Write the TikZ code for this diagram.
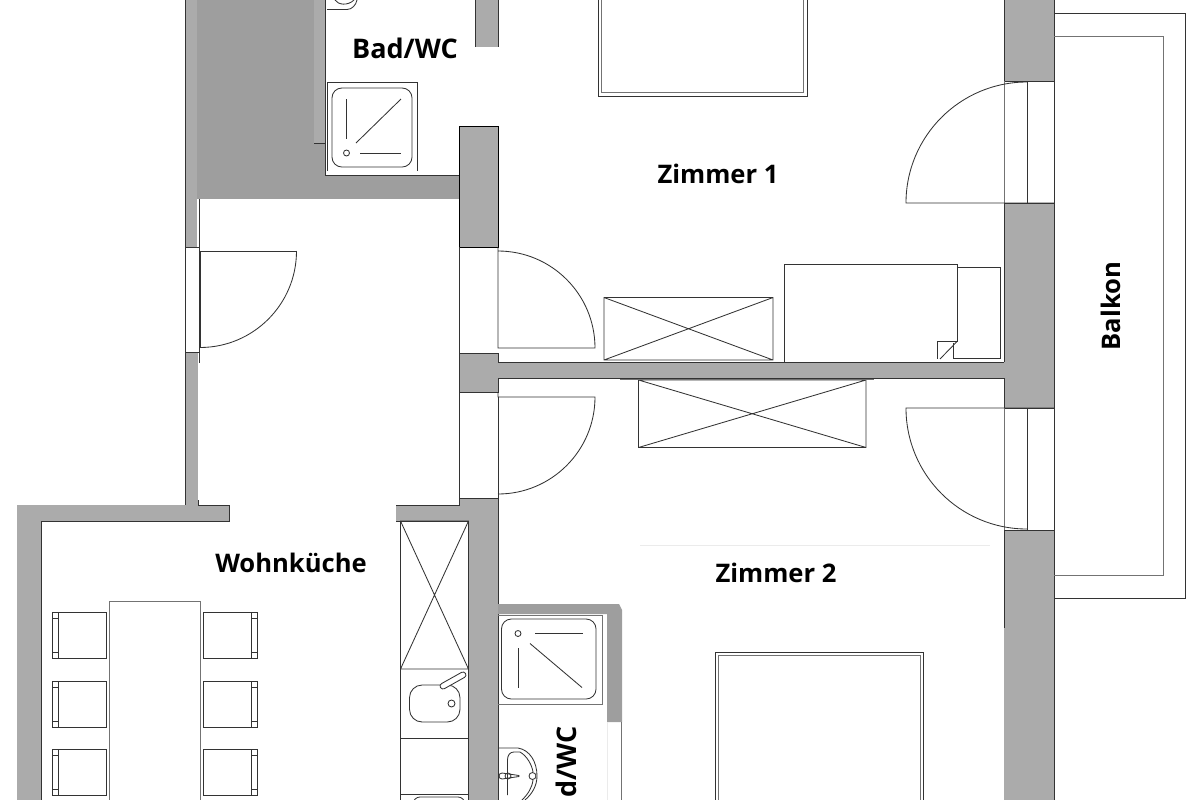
\documentclass[tikz,border=0pt]{standalone}
\usepackage{fontspec}
\setmainfont{Open Sans}
\usetikzlibrary{calc}
\definecolor{wallgray}{HTML}{ABABAB}
\definecolor{coregray}{HTML}{9E9E9E}
\tikzset{
    wall/.style={
        fill=wallgray,
        draw=black,
        line width=0.7pt
    },
    core/.style={
        fill=coregray,
        draw=none
    },
    plan/.style={
        draw=black!80,
        line width=0.6pt
    },
    faint/.style={
        draw=black!55,
        line width=0.6pt
    },
    ghost/.style={
        draw=black!8,
        line width=0.6pt
    },
    roomlabel/.style={
        font=\fontsize{18.2}{20}\selectfont\bfseries,
        text=black,
        inner sep=0pt
    },
    bathlabel/.style={
        font=\fontsize{19.2}{20}\selectfont\bfseries,
        text=black,
        inner sep=0pt
    }
}
\begin{document}
\begin{tikzpicture}[x=0.25mm,y=-0.25mm]
\useasboundingbox (0,0) rectangle (1200,800);
\clip (0,0) rectangle (1200,800);

% walls
\path[core] (197,0) rectangle (325,199);
\path[core] (197,175) rectangle (459,199);
\path[fill=wallgray] (314,0) rectangle (325,143);
\draw[plan] (314,143) -- (325,143);
\draw[plan] (325,0) -- (325,175) -- (459,175);
\path[fill=wallgray] (185,0) rectangle (197,247);
\draw[plan] (185,0) -- (185,247) -- (199,247) -- (199,199);
\path[fill=wallgray] (475,0) rectangle (498,47);
\draw[plan] (475,0) -- (475,47);
\draw[plan] (498,0) -- (498,47);
\draw[wall] (459,247) -- (459,126) -- (498,126) -- (498,247) -- cycle;
\path[fill=wallgray] (185,352) rectangle (198,505);
\draw[plan] (185,352) -- (199,352);
\draw[plan] (185,352) -- (185,505) -- (17,505) -- (17,800);
\path[fill=wallgray] (17,505) rectangle (229,521);
\path[fill=wallgray] (17,505) rectangle (41,800);
\draw[plan] (198,500) -- (198,505) -- (229,505) -- (229,521) -- (41,521) -- (41,800);
\path[fill=wallgray] (459,353) rectangle (498,392);
\path[fill=wallgray] (498,362) rectangle (1005,378);
\draw[plan] (498,362) -- (498,353) -- (459,353) -- (459,392) -- (498,392) -- (498,378) -- (1004,378);
\draw[plan] (498,362) -- (1004,362);
\path[fill=wallgray] (459,498) -- (498,498) -- (498,800) -- (468,800) -- (468,521) -- (396,521) -- (396,505) -- (459,505) -- cycle;
\draw[plan] (498,800) -- (498,498) -- (459,498) -- (459,505) -- (396,505);
\draw[plan] (396,521) -- (468,521) -- (468,800);
\foreach \ya/\yb in {0/81, 203/408, 530/800}
    \path[fill=wallgray] (1004,\ya) rectangle (1054,\yb);
\draw[plan] (1004,0) -- (1004,81) -- (1054,81);
\draw[plan] (1004,203) -- (1054,203);
\draw[plan] (1004,203) -- (1004,362);
\draw[plan] (1004,378) -- (1004,408) -- (1054,408);
\draw[plan] (1004,530) -- (1054,530);
\draw[plan] (1004,530) -- (1004,628);
\draw[plan] (1054,0) -- (1054,800);
\path[fill=coregray] (498,604) -- (619,604) -- (622,610) -- (622,722) -- (607,722) -- (607,614) -- (498,614) -- cycle;
\draw[faint] (621,722) -- (621,800);
\draw[ghost] (607,722) -- (607,800);

% openings and doors
\draw[plan] (185,247) -- (185,352);
\draw[plan] (199.5,247) -- (199.5,363);
\draw[plan] (459,247) -- (459,353);
\draw[plan] (459,392) -- (459,498);
\draw[plan] (498,247) -- (498,348) -- (595,348) arc (0:-90:97);
\draw[plan] (498,392) -- (498,397) -- (595,397) arc (0:90:97);
\draw[plan] (498,397) -- (498,498);
\draw[plan] (296.5,251) -- (200,251) -- (200,348);
\draw[plan] (296.5,251) arc (0:90:96.5);
\draw[faint] (1004,81) -- (1004,203);
\draw[plan] (1027,81) -- (1027,203);
\draw[plan] (1054,203) -- (906,203) arc (180:270:121);
\draw[faint] (1004,408) -- (1004,530);
\draw[plan] (1027,408) -- (1027,530);
\draw[plan] (1054,408) -- (906,408) arc (180:90:121);

% balcony
\draw[plan] (1054,13) -- (1185,13) -- (1185,598) -- (1054,598);
\draw[faint] (1054,36) -- (1163,36) -- (1163,575) -- (1054,575);

% beds and cupboards
\draw[plan] (598,0) -- (598,96) -- (807,96) -- (807,0);
\draw[faint] (601.5,0) -- (601.5,92.5) -- (803.5,92.5) -- (803.5,0);
\draw[plan] (715,800) -- (715,652) -- (923,652) -- (923,800);
\draw[faint] (718,800) -- (718,655.5) -- (920,655.5) -- (920,800);
\draw[plan] (604,297.5) rectangle (773,360) (604,297.5) -- (773,360) (604,360) -- (773,297.5);
\draw[plan] (638.5,380) rectangle (866,447.5) (638.5,380) -- (866,447.5) (638.5,447.5) -- (866,380);
\draw[faint] (620,379) -- (874,379);
\draw[plan] (784,362) -- (784,264) -- (957.5,264) -- (957.5,341) -- (937,341) -- (937,359);
\draw[plan] (957.5,341) -- (940,359);
\draw[plan] (957.5,267.5) -- (1000.5,267.5) -- (1000.5,358.5) -- (953,358.5) -- (953,343);
\draw[ghost] (640,545) -- (990,545);

% table and chairs
\draw[faint] (109,800) -- (109,601) -- (200,601) -- (200,800);
\foreach \y in {612.5, 681, 749} {
    \draw[plan] (52,\y) rectangle (106,\y+46);
    \draw[plan] (58,\y) -- (58,\y+46);
    \draw[plan] (52,\y+6) -- (58,\y+6) (52,\y+40) -- (58,\y+40);
    \draw[plan] (203,\y) rectangle (257,\y+46);
    \draw[plan] (251,\y) -- (251,\y+46);
    \draw[plan] (251,\y+6) -- (257,\y+6) (251,\y+40) -- (257,\y+40);
}

% kitchen
\draw[plan] (400.5,521) rectangle (468.5,669) (400.5,521) -- (468.5,669) (400.5,669) -- (468.5,521);
\draw[plan] (400.5,669) -- (400.5,800);
\draw[plan] (400.5,738) -- (468.5,738);
\draw[plan] (400.5,794) -- (468.5,794);
\draw[plan, rounded corners=9pt] (409.5,685) rectangle (460,722);
\draw[plan] (451.5,703.5) circle (3.5);
\draw[plan, rounded corners=2pt, fill=white] (439,685) -- (464,671) -- (467,676) -- (442,690) -- cycle;
\draw[plan, rounded corners=5pt] (413,810) -- (413,797) -- (465,797) -- (465,810);

% showers and basins
\draw[plan] (327,171) -- (327,82) -- (417,82) -- (417,171);
\draw[plan, rounded corners=7pt] (332,88) rectangle (412,167);
\draw[plan] (346.5,99) -- (346.5,139);
\draw[plan] (356,143) -- (401,99);
\draw[plan] (360,153) -- (401,153);
\draw[plan] (346.5,153) circle (3);
\draw[plan] (327,9.5) -- (347,9.5) .. controls (352,9.5) and (356,5) .. (357,0);
\draw[plan] (335,0) .. controls (338,5) and (348,6) .. (354,0);
\draw[faint] (498,615) -- (602.5,615) -- (602.5,704.5) -- (498,704.5);
\draw[plan, rounded corners=7pt] (501.5,619) rectangle (596,699);
\draw[plan] (518,633.5) circle (3);
\draw[plan] (535,633.5) -- (582.5,633.5);
\draw[plan] (518.5,648) -- (518.5,688);
\draw[plan] (530,643.5) -- (582,687.5);
\draw[plan] (498,748) -- (518,748) .. controls (530,750) and (537,762) .. (537,776) .. controls (537,786) and (532,794) .. (525,800);
\draw[plan] (507.5,795) -- (507.5,760) .. controls (507.5,755) and (510,752) .. (514,752) -- (520,752) .. controls (527,756) and (532,765) .. (533,772);
\draw[plan] (533,780) .. controls (532,788) and (528,794) .. (522,800);
\draw[plan] (532.5,776) circle (3.5);
\draw[plan] (502,773) -- (519,775.5) -- (519,776.5) -- (502,779) arc (90:270:3);
\draw[plan] (508,776) circle (3);

% labels
\node[bathlabel] (badtop) at (405,48) {Bad/WC};
\node[roomlabel] (zimmer1) at (718,174) {Zimmer 1};
\node[roomlabel] (zimmer2) at (776,573) {Zimmer 2};
\node[roomlabel] (wohnkueche) at (291,563) {Wohnküche};
\node[roomlabel, rotate=90] (balkon) at (1110.5,306) {Balkon};
\node[bathlabel, rotate=90] (badlow) at (566,762) {d/WC};

\end{tikzpicture}
\end{document}
